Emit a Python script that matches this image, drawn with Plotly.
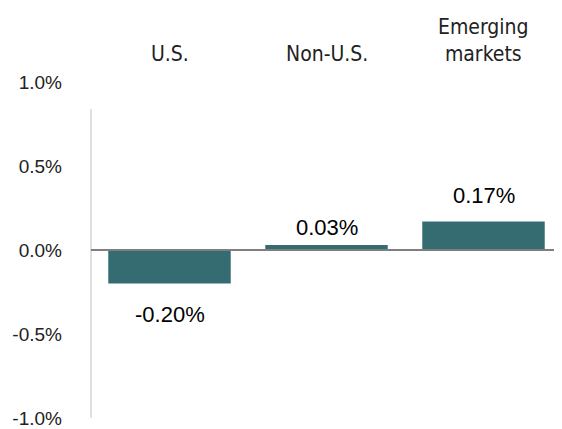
import plotly.graph_objects as go

categories = ["U.S.", "Non-U.S.", "Emerging markets"]
category_labels = ["U.S.", "Non-U.S.", "Emerging<br>markets"]
values = [-0.20, 0.03, 0.17]
value_labels = ["-0.20%", "0.03%", "0.17%"]
tick_values = [-1.0, -0.5, 0.0, 0.5, 1.0]
tick_labels = ["-1.0%", "-0.5%", "0.0%", "0.5%", "1.0%"]

bar_color = "#346c71"
label_shift = [-16, 3, 11]  # pixel offsets of the value labels

fig = go.Figure()
fig.add_trace(go.Bar(
    x=categories, y=values, marker=dict(color=bar_color, line=dict(width=0)),
    width=0.78, showlegend=False, hoverinfo="skip",
))

# value labels
for c, v, t, s in zip(categories, values, value_labels, label_shift):
    fig.add_annotation(
        x=c, y=v, text=t, showarrow=False,
        yanchor="bottom" if v >= 0 else "top",
        yshift=s,
        font=dict(family="Liberation Sans, Arial, sans-serif", size=22, color="#000000"),
    )

# category labels on top
for c, lab in zip(categories, category_labels):
    fig.add_annotation(
        x=c, y=1.0, xref="x", yref="paper", text=lab, showarrow=False,
        yanchor="bottom", yshift=14,
        font=dict(family="Liberation Sans Narrow, DejaVu Sans Condensed, Liberation Sans, sans-serif",
                  size=21, color="#222222"),
    )

# zero line
fig.add_shape(type="line", xref="paper", yref="y", x0=0, x1=1, y0=0, y1=0,
              line=dict(color="#7f7f7f", width=2), layer="above")
# left axis line
fig.add_shape(type="line", xref="paper", yref="y", x0=0, x1=0, y0=-1.0, y1=0.84,
              line=dict(color="#d4d4d4", width=1.5), layer="below")

# the page adds an 8px body margin, so the figure is sized to fit the window
fig.update_layout(
    width=554, height=421,
    margin=dict(l=83, r=0, t=74, b=11),
    paper_bgcolor="white", plot_bgcolor="white",
    xaxis=dict(showticklabels=False, showgrid=False, zeroline=False, showline=False,
               range=[-0.5, 2.5]),
    yaxis=dict(range=[-1.0, 1.0], tickvals=tick_values, ticktext=tick_labels,
               showgrid=False, zeroline=False, showline=False, ticks="",
               ticklabelstandoff=28,
               tickfont=dict(family="Liberation Sans, Arial, sans-serif", size=19, color="#222222")),
)

fig.write_html("out.html")
